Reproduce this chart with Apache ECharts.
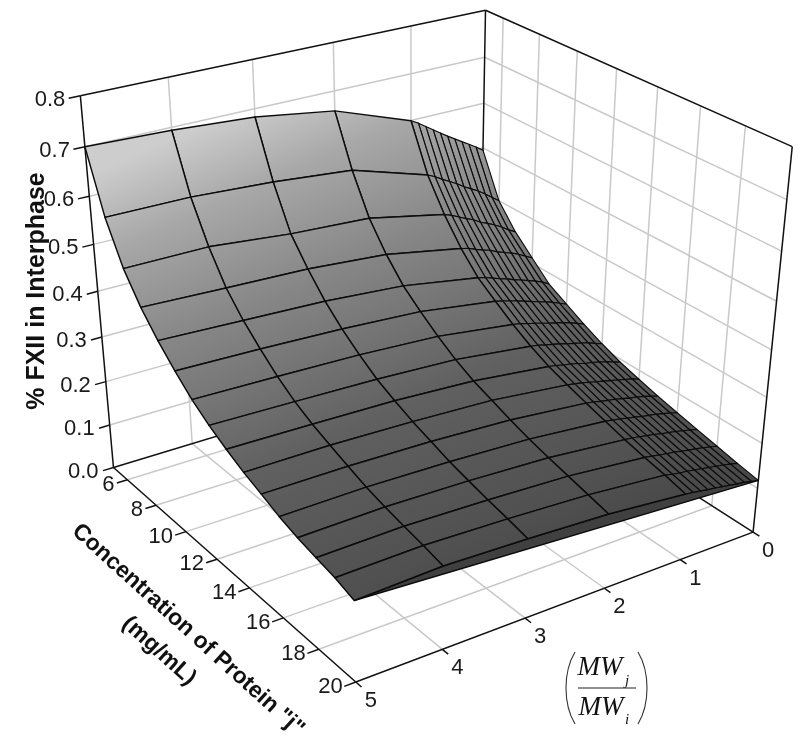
<!DOCTYPE html>
<html><head><meta charset="utf-8">
<style>html,body{margin:0;padding:0;background:#fff}#c{width:800px;height:738px}</style>
<script src="https://cdn.jsdelivr.net/npm/echarts@6/dist/echarts.min.js"></script>
</head><body><div id="c"></div>
<script>
const mwRatio = [0,0.1,0.2,0.3,0.4,0.5,0.6,0.7,0.8,0.9,1,2,3,4,5];
const concentration = [5,6,7,8,9,10,11,12,13,14,15,16,17,18,19,20];
const pctC5  = [.495,.506,.516,.526,.536,.546,.557,.568,.579,.590,.599,.658,.683,.694,.700];
const pctC6  = [.400,.412,.424,.435,.444,.453,.464,.473,.482,.492,.500,.551,.567,.577,.578];
const pctC7  = [.350,.359,.370,.379,.387,.394,.404,.411,.419,.427,.433,.468,.478,.495,.495];
const pctC8  = [.312,.321,.330,.337,.343,.349,.357,.362,.368,.375,.379,.411,.425,.431,.438];
const pctC9  = [.275,.284,.291,.297,.303,.308,.315,.320,.326,.332,.336,.365,.379,.386,.393];
const pctC10 = [.252,.259,.266,.272,.277,.282,.288,.293,.298,.303,.307,.332,.343,.350,.355];
const pctC11 = [.230,.237,.243,.248,.253,.257,.262,.267,.271,.276,.279,.302,.312,.317,.321];
const pctC12 = [.210,.216,.222,.227,.231,.235,.240,.244,.248,.252,.255,.276,.285,.290,.294];
const pctC13 = [.193,.199,.204,.209,.213,.216,.221,.225,.228,.232,.235,.255,.265,.269,.272];
const pctC14 = [.180,.186,.190,.194,.198,.202,.206,.210,.214,.217,.220,.239,.247,.252,.252];
const pctC15 = [.168,.173,.178,.182,.185,.189,.193,.196,.199,.203,.206,.223,.232,.236,.236];
const pctC16 = [.157,.162,.166,.170,.173,.176,.180,.183,.187,.190,.193,.209,.217,.221,.219];
const pctC17 = [.147,.151,.155,.159,.162,.165,.169,.172,.175,.178,.180,.197,.205,.209,.206];
const pctC18 = [.137,.141,.145,.148,.151,.154,.158,.160,.163,.166,.169,.186,.194,.199,.196];
const pctC19 = [.127,.131,.135,.138,.141,.144,.147,.150,.152,.155,.159,.175,.184,.190,.187];
const pctC20 = [.118,.122,.126,.128,.131,.134,.137,.139,.142,.145,.147,.164,.173,.179,.173];
const pct = [pctC5,pctC6,pctC7,pctC8,pctC9,pctC10,pctC11,pctC12,pctC13,pctC14,pctC15,pctC16,pctC17,pctC18,pctC19,pctC20];

const pctTicks = ['0.0','0.1','0.2','0.3','0.4','0.5','0.6','0.7','0.8'];
const concTicks = ['6','8','10','12','14','16','18','20'];
const mwTicks = ['0','1','2','3','4','5'];

const anchors = [
 [5,5,0,115,464],[5,5,.8,80,98],[0,5,.8,487,8],[0,5,0,478,362],
 [0,20,0,753,529],[0,20,.8,791,148],[5,20,0,355,684],
 [2,20,0,605,588],[3,20,0,527,618],[4,20,0,443,650],
 [5,10,0,185,531],[5,14,0,248,588],[0,5,.4,482,190]
];
const nrm = (m,c,w)=>[m/5,(c-5)/15,w/.8];
function solve(A,b){const n=b.length;const M=A.map((r,i)=>[...r,b[i]]);
 for(let i=0;i<n;i++){let p=i;for(let r=i+1;r<n;r++)if(Math.abs(M[r][i])>Math.abs(M[p][i]))p=r;
  [M[i],M[p]]=[M[p],M[i]];
  for(let r=0;r<n;r++){if(r===i)continue;const f=M[r][i]/M[i][i];for(let k=i;k<=n;k++)M[r][k]-=f*M[i][k];}}
 return M.map((r,i)=>r[n]/r[i]);}
const P=(function(){const rows=[],rhs=[];
 anchors.forEach(a=>{const [u,v,w]=nrm(a[0],a[1],a[2]);const x=a[3]/800,y=a[4]/800;
  rows.push([u,v,w,1,0,0,0,0,-x*u,-x*v,-x*w]);rhs.push(x);
  rows.push([0,0,0,0,u,v,w,1,-y*u,-y*v,-y*w]);rhs.push(y);});
 const N=Array.from({length:11},()=>Array(11).fill(0)),B=Array(11).fill(0);
 rows.forEach((r,i)=>{for(let a=0;a<11;a++){B[a]+=r[a]*rhs[i];for(let b=0;b<11;b++)N[a][b]+=r[a]*r[b];}});
 return solve(N,B);})();
function proj(m,c,z){const [u,v,w]=nrm(m,c,z);
 const d=P[8]*u+P[9]*v+P[10]*w+1;
 return [800*(P[0]*u+P[1]*v+P[2]*w+P[3])/d,800*(P[4]*u+P[5]*v+P[6]*w+P[7])/d];}

const shade=new echarts.graphic.LinearGradient(100,170,326,679,[
 {offset:0,color:'#cdcdcd'},{offset:.14,color:'#a8a8a8'},{offset:.33,color:'#878787'},
 {offset:.44,color:'#787878'},{offset:.61,color:'#606060'},{offset:.88,color:'#505050'},{offset:1,color:'#464646'}],true);

const wallLines=[];
const GRID='#c9c9c9';
pctTicks.forEach((t,i)=>{const w=+t; if(i===0||i===8)return;
 wallLines.push([5,5,w,0,5,w,0],[0,5,w,0,20,w,0]);});
[1,2,3,4].forEach(m=>{wallLines.push([m,5,0,m,5,.8,0],[m,5,0,m,20,0,0]);});
[6,8,10,12,14,16,18].forEach(c=>{wallLines.push([0,c,0,0,c,.8,0],[5,c,0,0,c,0,0]);});
const frameLines=[[5,5,.8,0,5,.8],[0,5,.8,0,20,.8],[5,5,0,5,5,.8],[0,5,0,0,5,.8],[0,20,0,0,20,.8],
 [5,5,0,0,5,0],[0,5,0,0,20,0],[5,5,0,5,20,0],[5,20,0,0,20,0]].map(a=>[...a,1]);
pctTicks.forEach(t=>frameLines.push([5,5,+t,5.13,5,+t,1]));
concTicks.forEach(t=>frameLines.push([5,+t,0,5.13,+t,0,1]));
mwTicks.forEach(t=>frameLines.push([+t,20,0,+t,20.3,0,1]));

function lineItem(params,api){
 const a=api.coord(proj(api.value(0),api.value(1),api.value(2)));
 const b=api.coord(proj(api.value(3),api.value(4),api.value(5)));
 const dark=api.value(6)===1;
 return {type:'line',shape:{x1:a[0],y1:a[1],x2:b[0],y2:b[1]},
  style:{stroke:dark?'#111':GRID,lineWidth:1.5}};
}
const cells=[];
for(let j=0;j<concentration.length-1;j++)for(let i=0;i<mwRatio.length-1;i++)cells.push([i,j]);
function cellItem(params,api){
 const i=api.value(0),j=api.value(1);
 const pt=(a,b)=>api.coord(proj(mwRatio[a],concentration[b],pct[b][a]));
 return {type:'polygon',shape:{points:[pt(i,j),pt(i+1,j),pt(i+1,j+1),pt(i,j+1)]},
  style:{fill:shade,stroke:'#0c0c0c',lineWidth:i<10?1.15:1.45,lineJoin:'round'}};
}
function rimItem(params,api){
 const last=concentration.length-1;
 const pts=mwRatio.map((m,i)=>api.coord(proj(m,concentration[last],pct[last][i])));
 return {type:'polygon',shape:{points:pts},style:{fill:'#404040',stroke:'#0c0c0c',lineWidth:1.45}};
}
const FONT='22px "Liberation Sans", Arial, sans-serif';
const pctTickData=pctTicks.map((t,i)=>[i]);
const concTickData=concTicks.map((t,i)=>[i]);
const mwTickData=mwTicks.map((t,i)=>[i]);
function textEl(p,text,align){return {type:'text',style:{text,x:p[0],y:p[1],font:FONT,fill:'#1a1a1a',align,verticalAlign:'middle'}};}
const labelPct=(pa,api)=>{const t=pctTicks[api.value(0)];const p=api.coord(proj(5,5,+t));return textEl([p[0]-15,p[1]+4],t,'right');};
const labelConc=(pa,api)=>{const t=concTicks[api.value(0)];const p=api.coord(proj(5,+t,0));return textEl([p[0]-13,p[1]+5],t,'right');};
const labelMw=(pa,api)=>{const t=mwTicks[api.value(0)];const p=api.coord(proj(+t,20,0));return textEl([p[0]+15,p[1]+19],t,'center');};

function custom(data,fn){return {type:'custom',coordinateSystem:'cartesian2d',clip:false,silent:true,animation:false,data,renderItem:fn};}

const BOLD='bold 25px "Liberation Sans", Arial, sans-serif';
const BOLD2='bold 23px "Liberation Sans", Arial, sans-serif';
const SERIF='italic 27px "Liberation Serif", "Times New Roman", serif';
const SUB='italic 15px "Liberation Serif", "Times New Roman", serif';
function txt(x,y,text,font,rotation){return {type:'text',x,y,rotation:rotation||0,silent:true,
 style:{text,font,fill:'#111',align:'center',verticalAlign:'middle'}};}
function paren(x0,xb){return {type:'bezierCurve',silent:true,shape:{x1:x0,y1:652,x2:x0,y2:724,cpx1:xb,cpy1:672,cpx2:xb,cpy2:704},
 style:{stroke:'#333',lineWidth:1.1,fill:null}};}

const chart=echarts.init(document.getElementById('c'),null,{renderer:'canvas'});
chart.setOption({
 backgroundColor:'#ffffff',animation:false,
 grid:{left:0,right:0,top:0,bottom:0},
 xAxis:{type:'value',min:0,max:800,show:false},
 yAxis:{type:'value',min:0,max:738,inverse:true,show:false},
 series:[
  custom(wallLines,lineItem),
  custom(frameLines,lineItem),
  custom([[0]],rimItem),
  custom(cells,cellItem),
  custom(pctTickData,labelPct),
  custom(concTickData,labelConc),
  custom(mwTickData,labelMw)
 ],
 graphic:[
  txt(37,291,'% FXII in Interphase',BOLD,Math.PI/2),
  txt(188,630,'Concentration of Protein "j"',BOLD2,-0.735),
  txt(159,651,'(mg/mL)',BOLD2,-0.735),
  txt(600,668,'MW',SERIF),
  txt(627,681,'j',SUB),
  {type:'line',silent:true,shape:{x1:578,y1:688,x2:636,y2:688},style:{stroke:'#222',lineWidth:1.2}},
  txt(601,708,'MW',SERIF),
  txt(627,720,'i',SUB),
  paren(575,563),paren(638,650)
 ]
});
</script></body></html>
